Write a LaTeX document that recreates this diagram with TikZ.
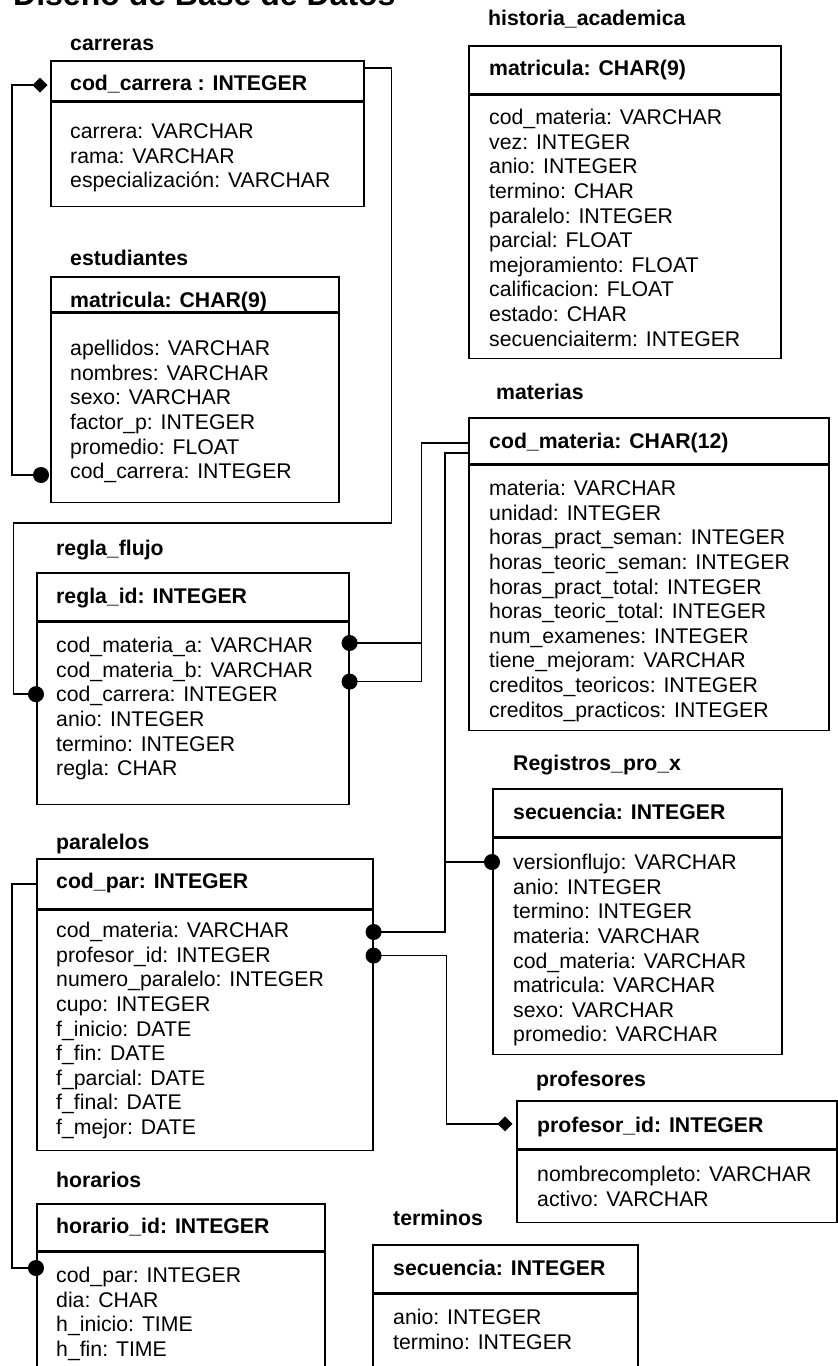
\documentclass[tikz,border=0pt]{standalone}
\usepackage{fontspec}
\setmainfont{Liberation Sans}
\usetikzlibrary{arrows.meta,calc}

\tikzset{
  fk/.tip={Circle[length=16pt,width=16pt]},
  pk/.tip={Diamond[length=15pt,width=15pt]},
}

\begin{document}
\begin{tikzpicture}[x=1pt,y=-1pt,
    font=\fontsize{21.25}{24.6}\selectfont,
    box/.style={draw,line width=1.6pt,anchor=north west,inner sep=0pt},
    attr/.style={anchor=west,inner sep=0pt,text height=15.2pt,text depth=0pt},
    tname/.style={attr,font=\fontsize{21.25}{24.6}\selectfont\bfseries},
    pkey/.style={tname},
    conn/.style={line width=1.6pt}]
  \useasboundingbox (0,0) rectangle (838,1366);

  \node[anchor=base west,inner sep=0pt,font=\fontsize{32}{32}\selectfont\bfseries] (title) at (13,5) {Diseño de Base de Datos};

  % carreras
  \node[tname] (carN) at (70,43) {carreras};
  \node[box,minimum width=313,minimum height=40] (carH) at (50,60) {};
  \node[box,minimum width=313,minimum height=104] (carB) at (carH.south west) {};
  \node[pkey] (carK) at (70,83) {cod\_carrera : INTEGER};
  \foreach \t [count=\i] in {carrera: VARCHAR, rama: VARCHAR, especialización: VARCHAR}
    \node[attr] (car-\i) at (70,{131+24.6*(\i-1)}) {\t};

  % estudiantes
  \node[tname] (estN) at (70,258) {estudiantes};
  \node[box,minimum width=288,minimum height=35] (estH) at (50,276) {};
  \node[box,minimum width=288,minimum height=189] (estB) at (estH.south west) {};
  \node[pkey] (estK) at (70,300) {matricula: CHAR(9)};
  \foreach \t [count=\i] in {apellidos: VARCHAR, nombres: VARCHAR, sexo: VARCHAR,
      factor\_p: INTEGER, promedio: FLOAT, cod\_carrera: INTEGER}
    \node[attr] (est-\i) at (70,{348+24.6*(\i-1)}) {\t};

  % regla_flujo
  \node[tname] (regN) at (56,548) {regla\_flujo};
  \node[box,minimum width=312,minimum height=48] (regH) at (36,572) {};
  \node[box,minimum width=312,minimum height=182] (regB) at (regH.south west) {};
  \node[pkey] (regK) at (56,596) {regla\_id: INTEGER};
  \foreach \t [count=\i] in {cod\_materia\_a: VARCHAR, cod\_materia\_b: VARCHAR, cod\_carrera: INTEGER,
      anio: INTEGER, termino: INTEGER, regla: CHAR}
    \node[attr] (reg-\i) at (56,{645+24.6*(\i-1)}) {\t};

  % paralelos
  \node[tname] (parN) at (56,842) {paralelos};
  \node[box,minimum width=336,minimum height=50] (parH) at (36,858) {};
  \node[box,minimum width=336,minimum height=240] (parB) at (parH.south west) {};
  \node[pkey] (parK) at (56,881) {cod\_par: INTEGER};
  \foreach \t [count=\i] in {cod\_materia: VARCHAR, profesor\_id: INTEGER, numero\_paralelo: INTEGER,
      cupo: INTEGER, f\_inicio: DATE, f\_fin: DATE, f\_parcial: DATE, f\_final: DATE, f\_mejor: DATE}
    \node[attr] (par-\i) at (56,{930+24.6*(\i-1)}) {\t};

  % horarios
  \node[tname] (horN) at (56,1180) {horarios};
  \node[box,minimum width=288,minimum height=47] (horH) at (36,1203) {};
  \node[box,minimum width=288,minimum height=140] (horB) at (horH.south west) {};
  \node[pkey] (horK) at (56,1226) {horario\_id: INTEGER};
  \foreach \t [count=\i] in {cod\_par: INTEGER, dia: CHAR, h\_inicio: TIME, h\_fin: TIME}
    \node[attr] (hor-\i) at (56,{1275+24.6*(\i-1)}) {\t};

  % terminos
  \node[tname] (terN) at (393,1218) {terminos};
  \node[box,minimum width=265,minimum height=48] (terH) at (372,1244) {};
  \node[box,minimum width=265,minimum height=72] (terB) at (terH.south west) {};
  \node[pkey] (terK) at (393,1268) {secuencia: INTEGER};
  \foreach \t [count=\i] in {anio: INTEGER, termino: INTEGER}
    \node[attr] (ter-\i) at (393,{1317+24.6*(\i-1)}) {\t};

  % historia_academica
  \node[tname] (hisN) at (488,18) {historia\_academica};
  \node[box,minimum width=312,minimum height=48] (hisH) at (468,45) {};
  \node[box,minimum width=312,minimum height=263] (hisB) at (hisH.south west) {};
  \node[pkey] (hisK) at (489,68) {matricula: CHAR(9)};
  \foreach \t [count=\i] in {cod\_materia: VARCHAR, vez: INTEGER, anio: INTEGER, termino: CHAR,
      paralelo: INTEGER, parcial: FLOAT, mejoramiento: FLOAT, calificacion: FLOAT, estado: CHAR,
      secuenciaiterm: INTEGER}
    \node[attr] (his-\i) at (489,{117+24.6*(\i-1)}) {\t};

  % materias
  \node[tname] (matN) at (496,392) {materias};
  \node[box,minimum width=360,minimum height=46] (matH) at (468,417) {};
  \node[box,minimum width=360,minimum height=265] (matB) at (matH.south west) {};
  \node[pkey] (matK) at (489,441) {cod\_materia: CHAR(12)};
  \foreach \t [count=\i] in {materia: VARCHAR, unidad: INTEGER, horas\_pract\_seman: INTEGER,
      horas\_teoric\_seman: INTEGER, horas\_pract\_total: INTEGER, horas\_teoric\_total: INTEGER,
      num\_examenes: INTEGER, tiene\_mejoram: VARCHAR, creditos\_teoricos: INTEGER,
      creditos\_practicos: INTEGER}
    \node[attr] (mat-\i) at (489,{488+24.6*(\i-1)}) {\t};

  % Registros_pro_x
  \node[tname] (rxN) at (513,763) {Registros\_pro\_x};
  \node[box,minimum width=289,minimum height=48] (rxH) at (492,788) {};
  \node[box,minimum width=289,minimum height=216] (rxB) at (rxH.south west) {};
  \node[pkey] (rxK) at (513,812) {secuencia: INTEGER};
  \foreach \t [count=\i] in {versionflujo: VARCHAR, anio: INTEGER, termino: INTEGER, materia: VARCHAR,
      cod\_materia: VARCHAR, matricula: VARCHAR, sexo: VARCHAR, promedio: VARCHAR}
    \node[attr] (rx-\i) at (513,{862+24.6*(\i-1)}) {\t};

  % profesores
  \node[tname] (profN) at (536,1079) {profesores};
  \node[box,minimum width=320,minimum height=48] (profH) at (516,1100) {};
  \node[box,minimum width=320,minimum height=72] (profB) at (profH.south west) {};
  \node[pkey] (profK) at (537,1125) {profesor\_id: INTEGER};
  \foreach \t [count=\i] in {nombrecompleto: VARCHAR, activo: VARCHAR}
    \node[attr] (prof-\i) at (537,{1174+24.6*(\i-1)}) {\t};

  % relaciones
  \draw[conn,fk-pk] ($(estB.west |- est-6)+(-1,4)$) -- ++(-37,0) |- ($(carH.west |- carK)+(-2.5,2)$);
  \draw[conn,-fk] ($(carH.north east)+(0,8)$) -- ++(27,0) -- ++(0,455) -- ++(-378,0)
    |- ($(regB.west |- reg-3)+(8,0)$);
  \draw[conn,fk-] ($(regB.east |- reg-1)+(-8,-2)$) -- ++(80,0) |- ($(matH.west)+(0,2)$);
  \draw[conn,fk-] ($(regB.east |- reg-2)+(-8,12)$) -- ++(80,0) |- ($(matH.west)+(0,2)$);
  \draw[conn,-fk] ($(matH.west)+(0,12)$) -- ++(-23,0) coordinate (bus)
    |- ($(parB.east |- par-1)+(-8,2)$);
  \draw[conn,-fk] (bus |- rx-1) -- ($(rxB.west |- rx-1)+(8,0)$);
  \draw[conn,fk-pk] ($(parB.east |- par-2)+(-8,1)$) -- ++(81,0) |- ($(profH.west)+(-3.5,-1)$);
  \draw[conn,-fk] ($(parH.west |- parK)+(2,3)$) -- ++(-26,0) |- ($(horB.west |- hor-1)+(8,-7)$);
\end{tikzpicture}
\end{document}
